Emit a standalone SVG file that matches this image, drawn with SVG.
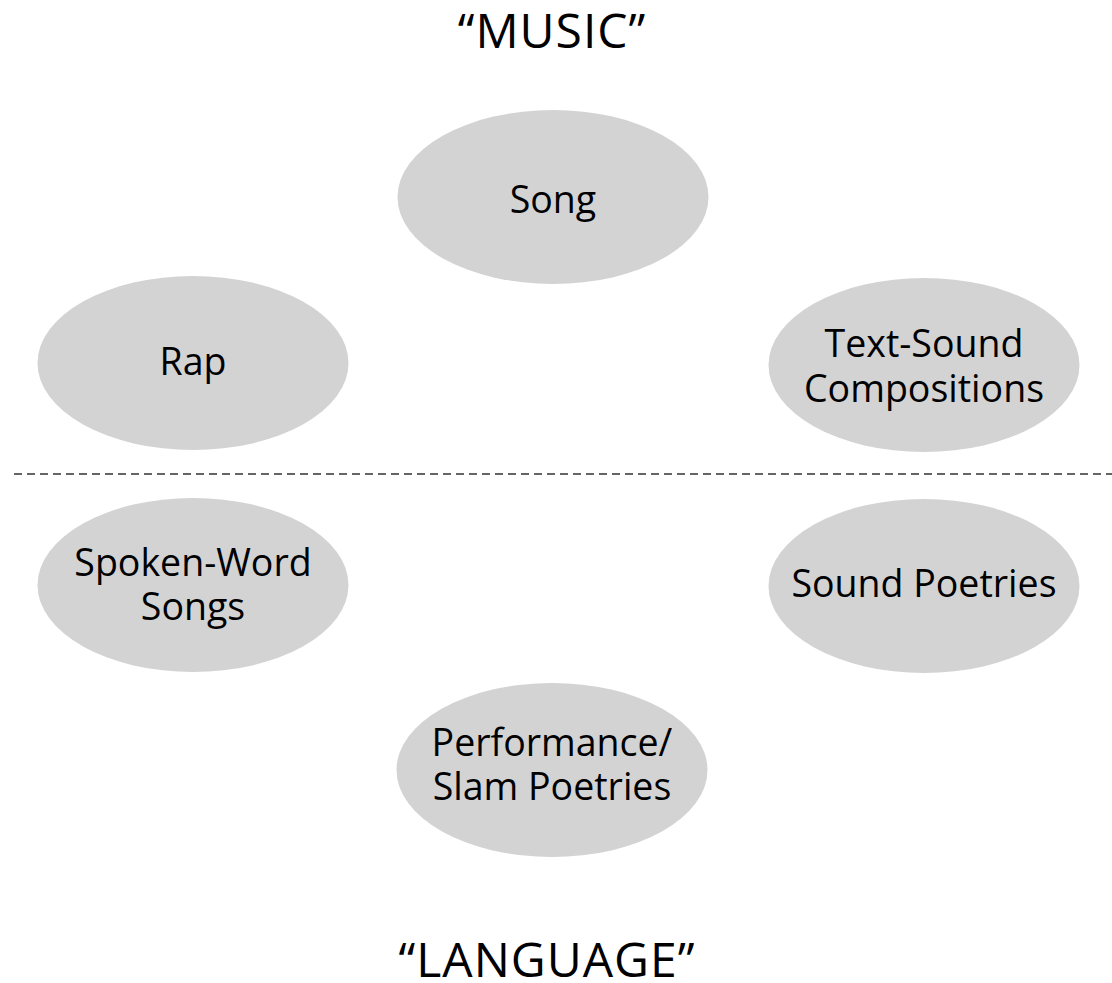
<svg xmlns="http://www.w3.org/2000/svg" width="1112" height="983" viewBox="0 0 1112 983">
<style>
.node ellipse{fill:#d3d3d3;stroke:none}
.label{font-family:"Open Sans","Noto Sans","Liberation Sans",sans-serif;font-size:37.5px;fill:#000;text-anchor:middle}
.title{font-family:"Open Sans","Noto Sans","Liberation Sans",sans-serif;font-size:48px;letter-spacing:1px;fill:#000;text-anchor:middle}
.divider{stroke:#333;stroke-width:1.3;stroke-dasharray:8 5;fill:none}
</style>
<rect width="1112" height="983" fill="#fff"/>
<text class="title" x="552" y="48">“MUSIC”</text>
<text class="title" x="547" y="977">“LANGUAGE”</text>
<g id="connectors">
<line class="divider" x1="14" y1="474" x2="1112" y2="474"/>
</g>
<g id="song" class="node">
<ellipse cx="553" cy="197" rx="155.5" ry="87"/>
<text class="label" x="553" y="213">Song</text>
</g>
<g id="rap" class="node">
<ellipse cx="193" cy="363" rx="155.5" ry="87"/>
<text class="label" x="193" y="375">Rap</text>
</g>
<g id="text-sound" class="node">
<ellipse cx="924" cy="365" rx="155.5" ry="87"/>
<text class="label" x="924" y="357">Text-Sound</text>
<text class="label" x="924" y="402">Compositions</text>
</g>
<g id="spoken-word" class="node">
<ellipse cx="193" cy="585" rx="155.5" ry="87"/>
<text class="label" x="193" y="576">Spoken-Word</text>
<text class="label" x="193" y="620">Songs</text>
</g>
<g id="sound-poetries" class="node">
<ellipse cx="924" cy="586" rx="155.5" ry="87"/>
<text class="label" x="924" y="597">Sound Poetries</text>
</g>
<g id="performance" class="node">
<ellipse cx="552" cy="770" rx="155.5" ry="87"/>
<text class="label" x="552" y="756">Performance/</text>
<text class="label" x="552" y="800">Slam Poetries</text>
</g>
</svg>
